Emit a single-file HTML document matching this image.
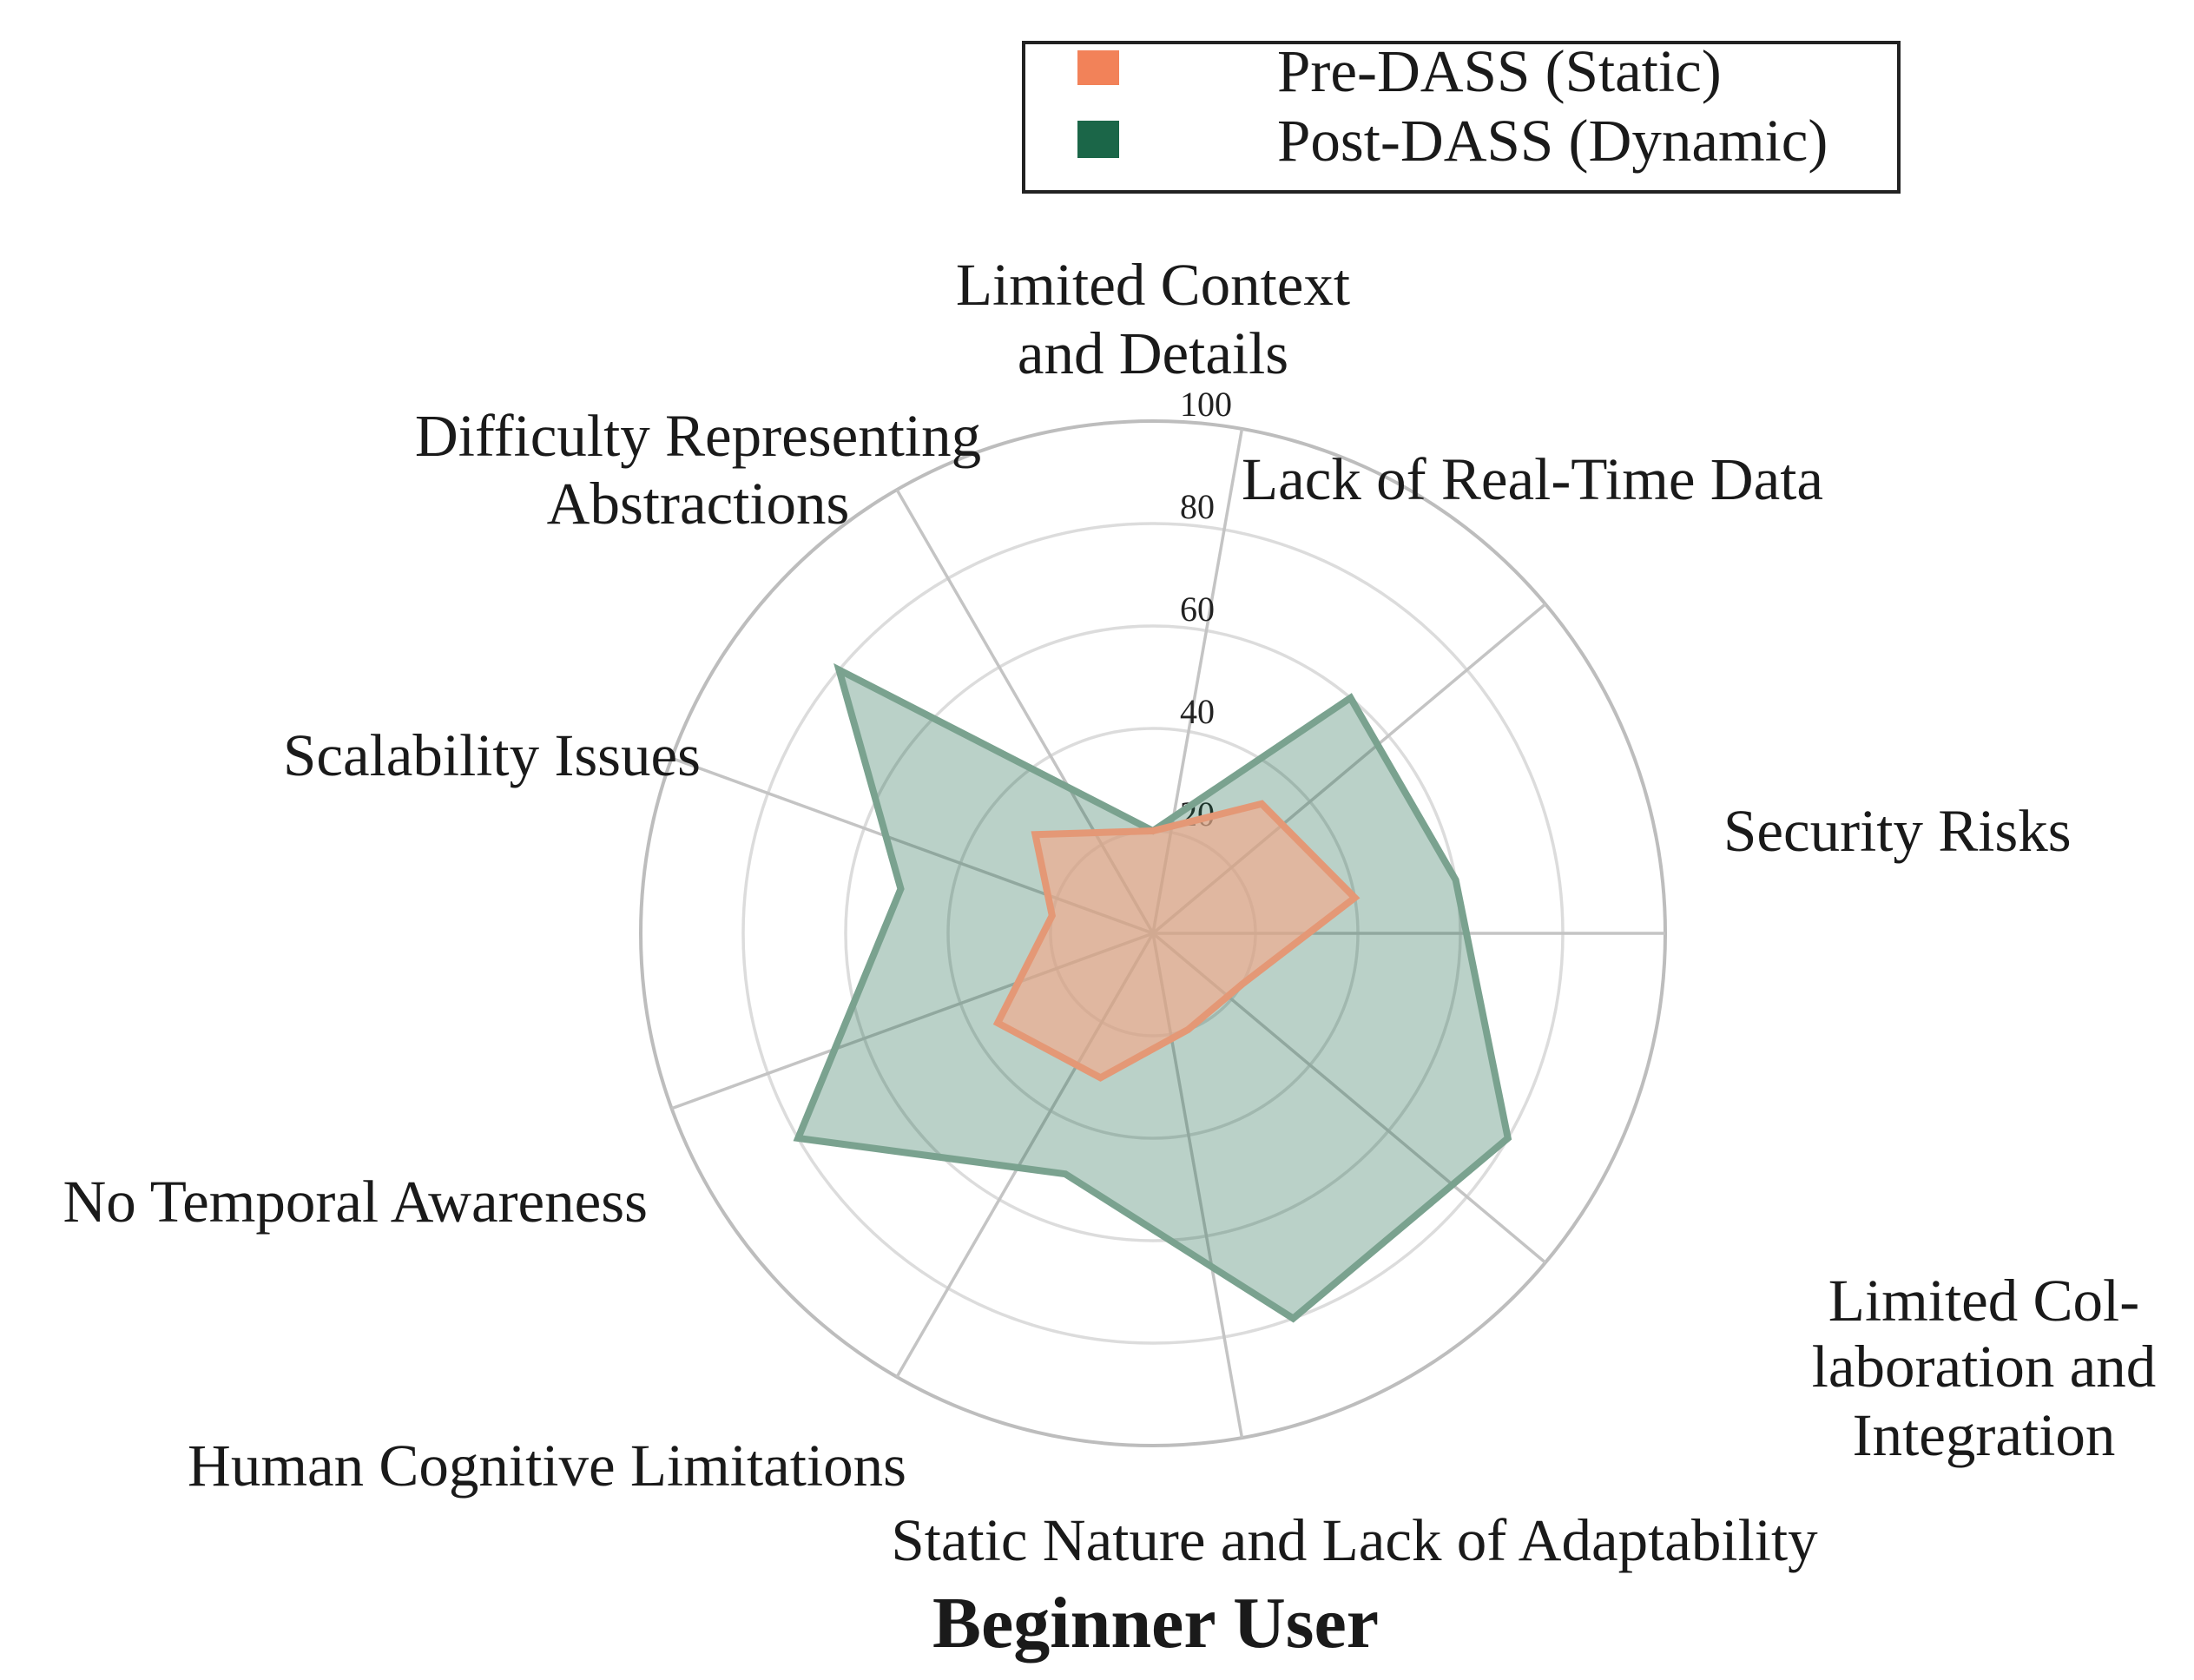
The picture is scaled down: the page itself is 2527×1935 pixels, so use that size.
<!DOCTYPE html>
<html><head><meta charset="utf-8"><style>
html,body{margin:0;padding:0;background:#fff;}
svg{display:block;font-family:"Liberation Serif",serif;}
</style></head><body>
<svg id="chart" width="2527" height="1935" viewBox="0 0 2527 1935" xmlns="http://www.w3.org/2000/svg">
<g id="grid"></g>
<g id="ticks"></g>
<g id="series"></g>
<g id="labels" font-size="69" fill="#1a1a1a">
<text x="1328" y="351" text-anchor="middle">Limited Context</text>
<text x="1328" y="430" text-anchor="middle">and Details</text>
<text x="1430" y="575">Lack of Real-Time Data</text>
<text x="1985" y="980">Security Risks</text>
<text x="2285" y="1521" text-anchor="middle">Limited Col-</text>
<text x="2285" y="1597" text-anchor="middle">laboration and</text>
<text x="2285" y="1676" text-anchor="middle">Integration</text>
<text x="1560" y="1797" text-anchor="middle">Static Nature and Lack of Adaptability</text>
<text x="630" y="1711" text-anchor="middle">Human Cognitive Limitations</text>
<text x="746" y="1407" text-anchor="end">No Temporal Awareness</text>
<text x="807" y="893" text-anchor="end">Scalability Issues</text>
<text x="804" y="525" text-anchor="middle">Difficulty Representing</text>
<text x="804" y="603" text-anchor="middle">Abstractions</text>
</g>
<text x="1331" y="1897" text-anchor="middle" font-size="84" font-weight="bold" fill="#1a1a1a">Beginner User</text>
<g>
<rect x="1179" y="49" width="1008" height="172" fill="#fff" stroke="#222" stroke-width="4"/>
<rect x="1241" y="58" width="48" height="40" fill="#F28259"/>
<text x="1471" y="105" font-size="69" fill="#1a1a1a">Pre-DASS (Static)</text>
<rect x="1241" y="139" width="48" height="43" fill="#1B6648"/>
<text x="1471" y="185" font-size="69" fill="#1a1a1a">Post-DASS (Dynamic)</text>
</g>
</svg>
<script>
const categories = ["Limited Context and Details","Lack of Real-Time Data","Security Risks","Limited Collaboration and Integration","Static Nature and Lack of Adaptability","Human Cognitive Limitations","No Temporal Awareness","Scalability Issues","Difficulty Representing Abstractions"];
const categoryAngles = [90, 50, 10, -30, -70, -110, -150, 170, 140];
const preValues = [20, 33, 40, 20, 20, 30, 35, 20, 30];
const postValues = [20, 60, 60, 80, 80, 50, 80, 50, 80];
const tickValues = [20, 40, 60, 80, 100];
const tickLabels = ["20", "40", "60", "80", "100"];

const NS = "http://www.w3.org/2000/svg";
const cx = 1328, cy = 1075, R = 590, maxV = 100;
function rScale(v){ return v / maxV * R; }
function angleFor(i){ return categoryAngles[i] * Math.PI / 180; }
function pt(i, v){ const a = angleFor(i), r = rScale(v); return [cx + r*Math.cos(a), cy - r*Math.sin(a)]; }
function mk(tag, attrs, parent){ const e = document.createElementNS(NS, tag); for (const k in attrs) e.setAttribute(k, attrs[k]); parent.appendChild(e); return e; }

const grid = document.getElementById('grid');
tickValues.forEach((t, k) => {
  const c = mk('circle', {cx: cx, cy: cy, r: rScale(t), fill: 'none', stroke: t === maxV ? '#bdbdbd' : '#dcdcdc', 'stroke-width': t === maxV ? 4 : 3.5}, grid);
  
  
});
const spokeCount = categories.length;
for (let i = 0; i < spokeCount; i++) {
  const a = (80 - i * 360 / spokeCount) * Math.PI / 180;
  const l = mk('line', {x1: cx, y1: cy, x2: cx + R*Math.cos(a), y2: cy - R*Math.sin(a), stroke: '#c4c4c4', 'stroke-width': 3.5}, grid);
  
  
}
const ticks = document.getElementById('ticks');
tickValues.forEach((t, k) => {
  const tx = mk('text', {x: 1359, y: cy - rScale(t) - 6, 'font-size': 40, fill: '#222'}, ticks);
  tx.textContent = tickLabels[k];
  
  
});
const series = document.getElementById('series');
function poly(vals, fill, fillOp, stroke, name){
  const pts = vals.map((v, i) => pt(i, v).join(',')).join(' ');
  const p = mk('polygon', {points: pts, fill: fill, 'fill-opacity': fillOp, stroke: stroke, 'stroke-width': 8, 'stroke-linejoin': 'miter'}, series);
  
  
}
poly(postValues, '#1B6648', 0.3, '#7AA28F', 'series-post-dass');
poly(preValues, 'rgb(244,169,138)', 0.65, 'rgb(228,152,118)', 'series-pre-dass');
</script>
</body></html>
